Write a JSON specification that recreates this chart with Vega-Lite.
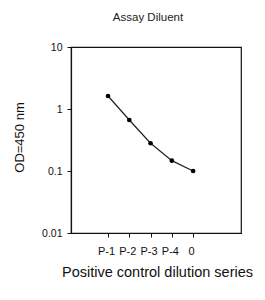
{
  "$schema": "https://vega.github.io/schema/vega-lite/v6.json",
  "width": 170,
  "height": 186,
  "autosize": {"type": "none"},
  "padding": {"left": 71, "top": 47, "right": 24, "bottom": 67},
  "background": "white",
  "config": {
    "font": "Liberation Sans",
    "view": {"stroke": "#111", "strokeWidth": 1.2},
    "axis": {"grid": false, "domainColor": "#111", "tickColor": "#111", "labelColor": "#111", "titleColor": "#111", "domainWidth": 1.2, "tickWidth": 1}
  },
  "title": {"text": "Assay Diluent", "fontSize": 11.5, "fontWeight": "normal", "color": "#222", "offset": 19, "dx": -8},
  "data": {"values": [
    {"idx": 1, "label": "P-1", "od": 1.62},
    {"idx": 2, "label": "P-2", "od": 0.665},
    {"idx": 3, "label": "P-3", "od": 0.28},
    {"idx": 4, "label": "P-4", "od": 0.147},
    {"idx": 5, "label": "0", "od": 0.1}
  ]},
  "encoding": {
    "x": {"field": "idx", "type": "quantitative",
      "scale": {"domain": [-0.74, 7.25], "nice": false, "zero": false},
      "axis": {"values": [1, 2, 3, 4, 5], "labelExpr": "['','P-1','P-2','P-3','P-4','0'][datum.value]", "labelOverlap": false, "tickSize": 4, "labelPadding": 8, "labelFontSize": 11, "labelOffset": -2, "title": "Positive control dilution series", "titleFontSize": 14.5, "titleFontWeight": "normal", "titleBaseline": "middle", "titleY": 39, "titleX": 86}},
    "y": {"field": "od", "type": "quantitative",
      "scale": {"type": "log", "domain": [0.01, 10], "nice": false},
      "axis": {"values": [0.01, 0.1, 1, 10], "format": "~g", "tickSize": 4, "labelPadding": 5, "labelFontSize": 10.5, "title": "OD=450 nm", "titleFontSize": 13, "titleFontWeight": "normal", "titleBaseline": "middle", "titleX": -52, "titleY": 90}}
  },
  "layer": [
    {"mark": {"type": "line", "color": "#222", "strokeWidth": 1.2}},
    {"mark": {"type": "point", "filled": true, "color": "#000", "size": 22, "opacity": 1}}
  ]
}
